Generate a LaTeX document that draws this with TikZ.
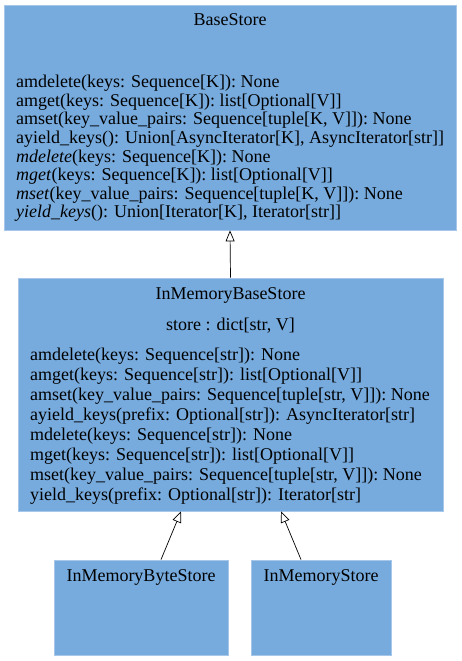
\documentclass[tikz,border=0pt]{standalone}
\usepackage{fontspec}
\setmainfont{Liberation Serif}
\usetikzlibrary{arrows.meta, positioning, calc}
\definecolor{umlfill}{RGB}{119, 170, 221}
\definecolor{umlline}{RGB}{166, 199, 233}

\begin{document}
\begin{tikzpicture}[
    x=1pt, y=-1pt,
    cls/.style={rectangle, draw=umlline, fill=umlfill, line width=0.8pt, inner sep=0pt},
    title/.style={anchor=base, inner sep=0pt, font=\fontsize{18}{21}\selectfont},
    members/.style={anchor=base west, align=left, inner sep=0pt}, % base = last line
    inherit/.style={-{Triangle[open, length=11pt, width=9pt]}, line width=0.7pt},
]
\useasboundingbox (0,0) rectangle (461,661);

% Base class
\node[cls, minimum width=452pt, minimum height=225pt] (base) at (230,117.5) {};
\node[title] (baseTitle) at (230,25.5) {BaseStore};
\node[members, font=\fontsize{18}{18.6}\selectfont] (baseOps) at (16,217.8) {%
amdelete(keys: Sequence[K]): None\\
amget(keys: Sequence[K]): list[Optional[V]]\\
amset(key\_value\_pairs: Sequence[tuple[K, V]]): None\\
ayield\_keys(): Union[AsyncIterator[K], AsyncIterator[str]]\\
\textit{mdelete}(keys: Sequence[K]): None\\
\textit{mget}(keys: Sequence[K]): list[Optional[V]]\\
\textit{mset}(key\_value\_pairs: Sequence[tuple[K, V]]): None\\
\textit{yield\_keys}(): Union[Iterator[K], Iterator[str]]};

% In-memory implementation
\node[cls, minimum width=425pt, minimum height=233pt] (mem) at (230.5,394.5) {};
\node[title] (memTitle) at (230.5,299) {InMemoryBaseStore};
\node[title] (memAttr) at (230.5,330.7) {store : dict[str, V]};
\node[members, font=\fontsize{18}{20}\selectfont] (memOps) at (30,500.5) {%
amdelete(keys: Sequence[str]): None\\
amget(keys: Sequence[str]): list[Optional[V]]\\
amset(key\_value\_pairs: Sequence[tuple[str, V]]): None\\
ayield\_keys(prefix: Optional[str]): AsyncIterator[str]\\
mdelete(keys: Sequence[str]): None\\
mget(keys: Sequence[str]): list[Optional[V]]\\
mset(key\_value\_pairs: Sequence[tuple[str, V]]): None\\
yield\_keys(prefix: Optional[str]): Iterator[str]};

% Subclasses
\node[cls, minimum width=174pt, minimum height=95pt] (byte) at (141,607.5) {};
\node[title] (byteTitle) at (141,581) {InMemoryByteStore};
\node[cls, minimum width=140pt, minimum height=95pt] (store) at (321,607.5) {};
\node[title] (storeTitle) at (321,581) {InMemoryStore};

% Inheritance
\draw[inherit] (mem.north) -- (base.south);
\draw[inherit] ([xshift=20pt]byte.north) -- ([xshift=-49.5pt]mem.south);
\draw[inherit] ([xshift=-20pt]store.north) -- ([xshift=50.5pt]mem.south);

\end{tikzpicture}
\end{document}
